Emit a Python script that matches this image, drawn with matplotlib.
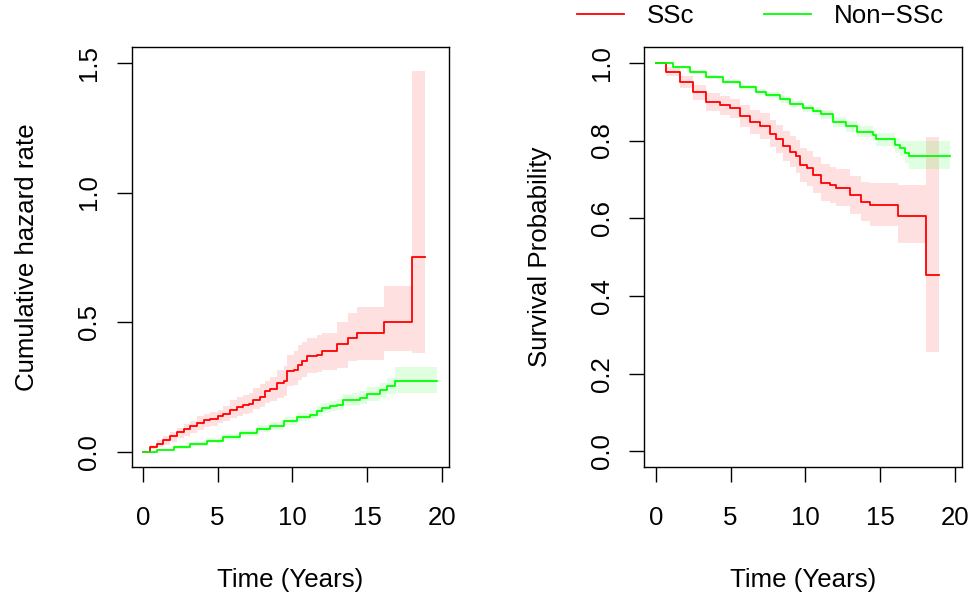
import matplotlib
matplotlib.use("Agg")
import matplotlib.pyplot as plt

plt.rcParams['font.family'] = ['Liberation Sans', 'DejaVu Sans']
plt.rcParams['font.size'] = 18.6

# cumulative hazard, SSc (line and confidence band share the time points)
ssc_haz_t = [0, 0.49, 0.93, 1.38, 1.83, 2.27, 2.72, 3.16, 3.61, 4.06, 4.5, 5.0, 5.39,
             5.84, 6.28, 6.73, 7.07, 7.4, 7.85, 8.18, 8.52, 8.96, 9.41, 9.67, 10.08,
             10.41, 10.63, 11.01, 11.64, 11.98, 12.98, 13.71, 14.36, 16.14, 17.99, 18.88]
ssc_haz = [0.0, 0.019, 0.032, 0.047, 0.060, 0.076, 0.089, 0.099, 0.111, 0.122, 0.127,
           0.137, 0.147, 0.163, 0.173, 0.180, 0.185, 0.199, 0.212, 0.234, 0.243, 0.266,
           0.275, 0.313, 0.317, 0.336, 0.349, 0.369, 0.375, 0.388, 0.417, 0.441, 0.458,
           0.4995, 0.750, 0.750]
ssc_haz_hi = [0.0, 0.028, 0.045, 0.060, 0.078, 0.092, 0.106, 0.120, 0.137, 0.148, 0.155,
              0.163, 0.178, 0.201, 0.212, 0.220, 0.227, 0.245, 0.260, 0.272, 0.290, 0.317,
              0.330, 0.375, 0.390, 0.413, 0.425, 0.439, 0.450, 0.458, 0.4995, 0.536, 0.557,
              0.638, 1.469, 1.469]
ssc_haz_lo = [0.0, 0.010, 0.020, 0.028, 0.040, 0.052, 0.062, 0.072, 0.086, 0.095, 0.100,
              0.111, 0.120, 0.131, 0.140, 0.146, 0.150, 0.165, 0.175, 0.189, 0.195, 0.208,
              0.215, 0.253, 0.258, 0.278, 0.290, 0.304, 0.310, 0.317, 0.324, 0.349, 0.356,
              0.388, 0.382, 0.382]

# cumulative hazard, Non-SSc
non_haz_t = [0, 0.93, 2.05, 3.16, 4.28, 5.39, 6.51, 7.62, 8.52, 9.41, 10.3, 11.19, 11.64,
             11.97, 12.53, 12.97, 13.42, 13.98, 14.54, 14.98, 15.87, 16.32, 16.88, 19.66]
non_haz = [0.0, 0.009, 0.019, 0.031, 0.044, 0.058, 0.073, 0.089, 0.101, 0.118, 0.135,
           0.144, 0.157, 0.169, 0.176, 0.182, 0.199, 0.202, 0.208, 0.223, 0.237, 0.253,
           0.275, 0.275]
non_haz_hi = [0.0, 0.013, 0.026, 0.039, 0.053, 0.069, 0.085, 0.103, 0.116, 0.134, 0.152,
              0.162, 0.176, 0.189, 0.197, 0.204, 0.222, 0.226, 0.233, 0.250, 0.266, 0.285,
              0.326, 0.326]
non_haz_lo = [0.0, 0.006, 0.012, 0.023, 0.035, 0.047, 0.061, 0.075, 0.086, 0.102, 0.118,
              0.126, 0.138, 0.150, 0.156, 0.161, 0.176, 0.178, 0.183, 0.196, 0.208, 0.222,
              0.229, 0.229]

# survival, SSc
ssc_surv_t = [0, 0.71, 1.6, 2.49, 3.39, 4.28, 4.94, 5.61, 6.28, 6.95, 7.62, 8.06, 8.51,
              8.95, 9.4, 9.62, 10.07, 10.51, 11.07, 11.63, 12.07, 12.96, 13.74, 14.34,
              16.17, 18.02, 18.91]
ssc_surv = [1.0, 0.977, 0.951, 0.925, 0.900, 0.891, 0.883, 0.863, 0.848, 0.837, 0.818,
            0.803, 0.786, 0.771, 0.759, 0.737, 0.729, 0.711, 0.692, 0.686, 0.679, 0.660,
            0.643, 0.633, 0.607, 0.455, 0.455]
ssc_surv_hi = [1.0, 0.988, 0.966, 0.944, 0.923, 0.915, 0.908, 0.891, 0.878, 0.870, 0.853,
               0.840, 0.825, 0.811, 0.801, 0.781, 0.773, 0.757, 0.739, 0.733, 0.727, 0.710,
               0.694, 0.690, 0.686, 0.810, 0.810]
ssc_surv_lo = [1.0, 0.965, 0.935, 0.905, 0.876, 0.866, 0.857, 0.835, 0.818, 0.805, 0.784,
               0.767, 0.748, 0.731, 0.717, 0.693, 0.684, 0.665, 0.645, 0.639, 0.631, 0.611,
               0.592, 0.580, 0.536, 0.256, 0.256]

# survival, Non-SSc
non_surv_t = [0, 1.16, 2.27, 3.39, 4.5, 5.61, 6.73, 7.39, 8.29, 8.95, 9.84, 10.51, 11.07,
              11.85, 12.74, 13.41, 14.52, 14.74, 15.97, 16.3, 16.64, 16.93, 19.64]
non_surv = [1.0, 0.988, 0.977, 0.964, 0.951, 0.938, 0.925, 0.917, 0.906, 0.895, 0.883,
            0.876, 0.868, 0.848, 0.837, 0.823, 0.814, 0.803, 0.788, 0.780, 0.769, 0.760,
            0.760]
non_surv_hi = [1.0, 0.991, 0.981, 0.969, 0.957, 0.944, 0.932, 0.924, 0.914, 0.903, 0.892,
               0.886, 0.879, 0.860, 0.850, 0.837, 0.829, 0.819, 0.806, 0.800, 0.799, 0.799,
               0.799]
non_surv_lo = [1.0, 0.985, 0.972, 0.959, 0.945, 0.931, 0.918, 0.909, 0.897, 0.886, 0.873,
               0.865, 0.856, 0.835, 0.823, 0.808, 0.798, 0.786, 0.769, 0.759, 0.742, 0.726,
               0.726]

x_ticks = [0, 5, 10, 15, 20]
haz_ticks = [0.0, 0.5, 1.0, 1.5]
surv_ticks = [0.0, 0.2, 0.4, 0.6, 0.8, 1.0]

RED = '#FF0000'
GREEN = '#00FF00'

fig = plt.figure(figsize=(9.72, 6), dpi=100)
ax1 = fig.add_axes([0.1353, 0.2217, 0.3266, 0.6995])
ax2 = fig.add_axes([0.6629, 0.2217, 0.3272, 0.6995])


def draw_panel(ax, curves, yticks, ylim, ylabel):
    # bands first so both lines sit on top of the shading
    for t, v, lo, hi, col in curves:
        ax.fill_between(t, lo, hi, step='post', color=col, alpha=0.12, linewidth=0)
    lines = []
    for t, v, lo, hi, col in curves:
        ln, = ax.step(t, v, where='post', color=col, linewidth=1.3)
        lines.append(ln)
    ax.set_xlim(-0.76, 20.48)
    ax.set_ylim(*ylim)
    ax.set_xticks(x_ticks)
    ax.set_yticks(yticks)
    ax.set_yticklabels(['%.1f' % y for y in yticks], rotation=90, va='center')
    ax.tick_params(length=11, width=1.0, pad=17)
    ax.tick_params(axis='y', pad=11)
    for s in ax.spines.values():
        s.set_linewidth(1.0)
    ax.set_xlabel('Time (Years)', labelpad=27.5)
    ax.set_ylabel(ylabel, labelpad=27.5)
    return lines


draw_panel(ax1, [(ssc_haz_t, ssc_haz, ssc_haz_lo, ssc_haz_hi, RED),
                 (non_haz_t, non_haz, non_haz_lo, non_haz_hi, GREEN)],
           haz_ticks, (-0.058, 1.56), 'Cumulative hazard rate')
lines = draw_panel(ax2, [(ssc_surv_t, ssc_surv, ssc_surv_lo, ssc_surv_hi, RED),
                         (non_surv_t, non_surv, non_surv_lo, non_surv_hi, GREEN)],
                   surv_ticks, (-0.04, 1.04), 'Survival Probability')

fig.legend(lines, ['SSc', 'Non\u2212SSc'], loc='center left',
           bbox_to_anchor=(577 / 972, 1 - 16 / 600), ncol=2, frameon=False,
           borderpad=0, borderaxespad=0, handlelength=1.82, handletextpad=0.87,
           columnspacing=2.71)

fig.savefig('out.png', dpi=100)
